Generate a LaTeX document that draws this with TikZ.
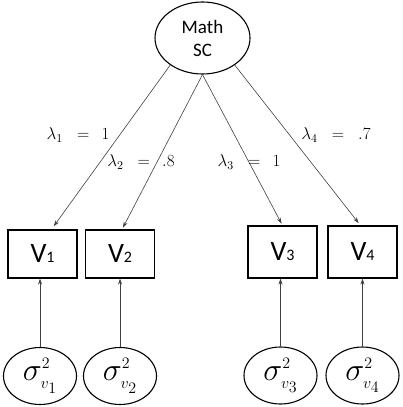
\RequirePackage{fix-cm}
\documentclass[tikz,border=0pt]{standalone}
\usepackage{fontspec}
\setsansfont{Carlito}
\usepackage{amsmath}
\usepackage{tikz}
\usetikzlibrary{shapes,arrows.meta,positioning,calc}

\begin{document}
\begin{tikzpicture}[x=1pt,y=-1pt,
    latent/.style={draw, ellipse, line width=1.1pt, inner sep=0pt},
    observed/.style={draw, rectangle, line width=1.1pt, inner sep=0pt, minimum width=69pt, font=\sffamily},
    errvar/.style={latent, minimum width=73pt, minimum height=57pt, font=\fontsize{32}{32}\selectfont},
    path/.style={black!75, line width=0.6pt, -{Stealth[length=6pt,width=4pt]}},
    loading/.style={inner sep=0pt, font=\fontsize{17}{17}\selectfont}]
                \useasboundingbox (0,0) rectangle (402,407);
                \node[latent, minimum width=95pt, minimum height=72pt, align=center,
                      font=\sffamily\fontsize{19}{23}\selectfont] (mathsc) at (202.5,38) {Math\\SC};

                % Indicators
                \node[observed, minimum height=48pt] (v1) at (42.5,254) {{\fontsize{28}{28}\selectfont V}{\fontsize{16}{16}\selectfont 1}};
                \node[observed, minimum height=48pt] (v2) at (120,254) {{\fontsize{28}{28}\selectfont V}{\fontsize{16}{16}\selectfont 2}};
                \node[observed, minimum height=52pt] (v3) at (282.5,252) {{\fontsize{28}{28}\selectfont V}{\fontsize{16}{16}\selectfont 3}};
                \node[observed, minimum height=52pt] (v4) at (362.5,252) {{\fontsize{28}{28}\selectfont V}{\fontsize{16}{16}\selectfont 4}};

                % Error variances
                \node[errvar] (e1) at (40,376) {$\sigma^{\scriptscriptstyle 2}_{\scriptscriptstyle v_1}$};
                \node[errvar] (e2) at (120,376) {$\sigma^{\scriptscriptstyle 2}_{\scriptscriptstyle v_2}$};
                \node[errvar] (e3) at (280.5,375.5) {$\sigma^{\scriptscriptstyle 2}_{\scriptscriptstyle v_3}$};
                \node[errvar] (e4) at (362.5,375.5) {$\sigma^{\scriptscriptstyle 2}_{\scriptscriptstyle v_4}$};

                % Loadings
                \draw[path, shorten >=4pt] (mathsc.220) -- (v1.70);
                \draw[path, shorten >=2pt] (mathsc.south) -- ([xshift=2pt]v2.north);
                \draw[path, shorten >=2pt] (mathsc.south) -- (v3.north);
                \draw[path, shorten >=3pt] (mathsc.320) -- ([xshift=-2pt]v4.north);
                \node[loading] (l1) at (78,135) {$\lambda_{1}\;\;=\;\,1$};
                \node[loading] (l2) at (141,162) {$\lambda_{2}\;\;=\;\,.8$};
                \node[loading] (l3) at (249,162) {$\lambda_{3}\;\;=\;\,1$};
                \node[loading] (l4) at (336,135) {$\lambda_{4}\;\;=\;\;.7$};

                \foreach \i in {1,...,4}
                    \draw[path] (e\i.north) -- (e\i.north |- v\i.south);
            \end{tikzpicture}
\end{document}
